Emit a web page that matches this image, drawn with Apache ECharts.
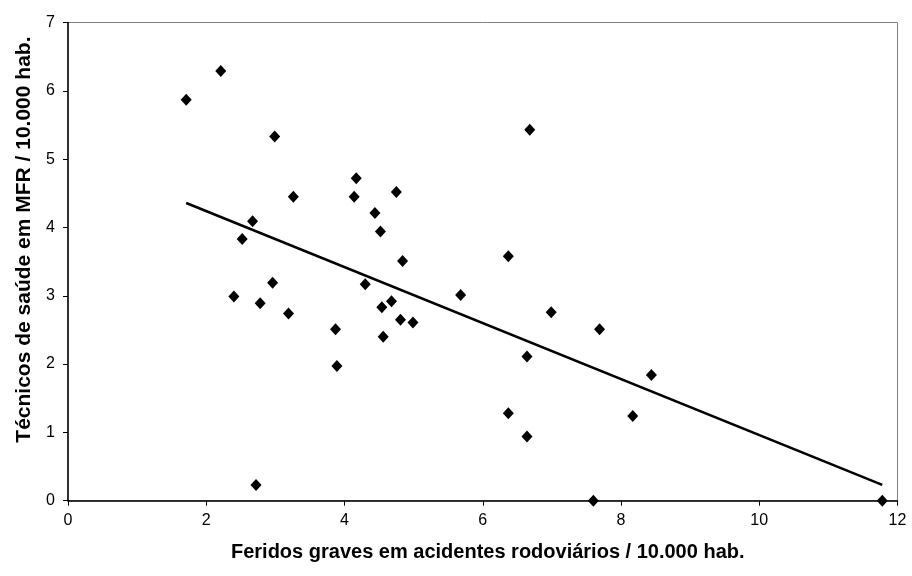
<!DOCTYPE html>
<html>
<head>
<meta charset="utf-8">
<script src="https://cdn.jsdelivr.net/npm/echarts@6/dist/echarts.min.js"></script>
<style>
  html, body { margin: 0; padding: 0; background: #fff; }
  #chart { width: 912px; height: 576px; }
</style>
</head>
<body>
<div id="chart"></div>
<script>
// Feridos graves em acidentes rodoviários / 10.000 hab. (x)
var feridosGraves = [
  1.71, 2.21, 2.99, 4.17, 3.26, 4.14, 4.75, 4.44, 2.67, 2.52,
  4.52, 4.84, 6.37, 2.96, 2.40, 2.78, 3.19, 4.30, 3.87, 4.54,
  4.68, 4.81, 4.99, 5.68, 4.56, 3.89, 2.72, 6.37, 6.68, 6.99,
  7.69, 6.64, 8.44, 8.17, 6.64, 7.60, 11.78
];
// Técnicos de saúde em MFR / 10.000 hab. (y)
var tecnicosSaude = [
  5.87, 6.29, 5.33, 4.72, 4.45, 4.45, 4.52, 4.21, 4.09, 3.83,
  3.94, 3.51, 3.58, 3.19, 2.99, 2.89, 2.74, 3.17, 2.51, 2.83,
  2.92, 2.65, 2.61, 3.01, 2.40, 1.97, 0.23, 1.28, 5.43, 2.76,
  2.51, 2.11, 1.84, 1.24, 0.94, 0.00, 0.00
];
var xTicks = [0, 2, 4, 6, 8, 10, 12];
var yTicks = [0, 1, 2, 3, 4, 5, 6, 7];

var points = feridosGraves.map(function (x, i) { return [x, tecnicosSaude[i]]; });

// Least-squares linear trend across the range of x
function linearTrend(xs, ys) {
  var n = xs.length, sx = 0, sy = 0, sxx = 0, sxy = 0;
  for (var i = 0; i < n; i++) {
    sx += xs[i]; sy += ys[i]; sxx += xs[i] * xs[i]; sxy += xs[i] * ys[i];
  }
  var b = (n * sxy - sx * sy) / (n * sxx - sx * sx);
  var a = (sy - b * sx) / n;
  var x0 = Math.min.apply(null, xs), x1 = Math.max.apply(null, xs);
  return [[x0, a + b * x0], [x1, a + b * x1]];
}
var trend = linearTrend(feridosGraves, tecnicosSaude);

var font = 'Liberation Sans, Arial, sans-serif';
var chart = echarts.init(document.getElementById('chart'), null, { renderer: 'canvas' });
chart.setOption({
  animation: false,
  backgroundColor: '#ffffff',
  grid: {
    left: 68, right: 14.5, top: 22.5, bottom: 75.3,
    show: true, borderColor: '#808080', borderWidth: 1, backgroundColor: '#ffffff'
  },
  xAxis: {
    type: 'value',
    min: xTicks[0], max: xTicks[xTicks.length - 1], interval: 2,
    name: 'Feridos graves em acidentes rodoviários / 10.000 hab.',
    nameLocation: 'middle', nameGap: 42,
    nameTextStyle: { fontFamily: font, fontWeight: 'bold', fontSize: 20, color: '#000', padding: [0, 0, 0, 10] },
    axisLine: { show: true, onZero: false, lineStyle: { color: '#000', width: 1.5 } },
    axisTick: { show: true, length: 5, lineStyle: { color: '#000' } },
    axisLabel: { fontFamily: font, fontSize: 16, color: '#000', margin: 12 },
    splitLine: { show: false }
  },
  yAxis: {
    type: 'value',
    min: yTicks[0], max: yTicks[yTicks.length - 1], interval: 1,
    name: 'Técnicos de saúde em MFR / 10.000 hab.',
    nameLocation: 'middle', nameGap: 31,
    nameTextStyle: { fontFamily: font, fontWeight: 'bold', fontSize: 21, color: '#000', padding: [0, 0, 0, 44] },
    axisLine: { show: true, onZero: false, lineStyle: { color: '#000', width: 1.5 } },
    axisTick: { show: true, length: 5, lineStyle: { color: '#000' } },
    axisLabel: { fontFamily: font, fontSize: 16, color: '#000', margin: 13 },
    splitLine: { show: false }
  },
  series: [
    {
      type: 'line',
      data: trend,
      showSymbol: false,
      symbol: 'none',
      lineStyle: { color: '#000', width: 2.5 },
      silent: true,
      z: 2
    },
    {
      type: 'scatter',
      data: points,
      symbol: 'diamond',
      symbolSize: [11, 12],
      itemStyle: { color: '#000', opacity: 1 },
      clip: false,
      z: 3
    }
  ]
});
</script>
</body>
</html>
